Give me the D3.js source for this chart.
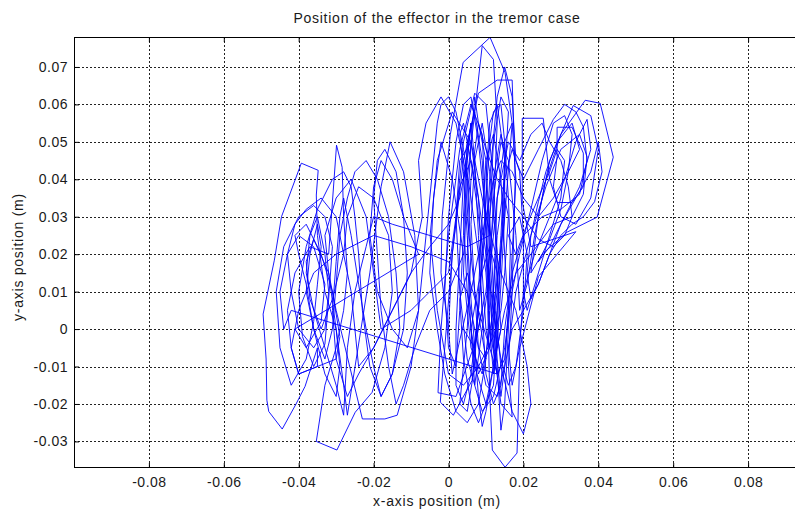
<!DOCTYPE html>
<html>
<head>
<meta charset="utf-8">
<script src="https://cdn.jsdelivr.net/npm/d3@7"></script>
<style>
  body { margin: 0; background: #fff; }
  svg text { font-family: "Liberation Sans", Arial, sans-serif; fill: #1a1a1a; }
</style>
</head>
<body>
<div id="chart"></div>
<script>
// ---------------------------------------------------------
// DATA  (effector position, in millimetres)
// ---------------------------------------------------------
const titleText = "Position of the effector in the tremor case";
const xLabelText = "x-axis position (m)";
const yLabelText = "y-axis position (m)";

const xTicks = [-80, -60, -40, -20, 0, 20, 40, 60, 80];
const yTicks = [-30, -20, -10, 0, 10, 20, 30, 40, 50, 60, 70];

// one line per tremor loop, 10 samples each
const trackX = [
  0, -2, -1.7, 0.5, 3.9, 11.1, 15.1, 17, 15, 12,
  9, 6, 4, 5, 9, 12, 13, 12, 10, 7,
  2, -2.8, -2, 0, 3, 6, 9, 10, 8, 6.3,
  1.3, -2.2, -1, 1, 4, 8, 13, 17, 17.8, 17,
  16, 17, 14, 12, 11, 12, 14, 16, 18, 19,
  21, 23, 26, 30, 36.5, 40.5, 44, 39.7, 31.7, 25,
  22, 24, 27, 33.3, 38, 40, 38, 34, 30, 28,
  29, 29, 33, 36, 36, 33, 29, 27, 25.3, 19.7,
  19.7, 22, 28, 34, 24, 19.1, 18.3, 15.1, 11.7, 11,
  10.5, 11, 12, 14, 16, 15, 14, 13, 12, 10,
  7, 5, 4, 5, 7, 9, 10, 11, 10, 8,
  5, 0, -10, -20, -30, -36, -40, -42, -40, -35,
  -35, -38.3, -40.7, -44.4, -48, -48.5, -48.7, -49.5, -46.5, -44.6,
  -39.3, -34.8, -35.3, -35, -33, -30, -29, -30, -33, -36,
  -38, -40, -41, -38, -34, -31, -29, -30, -35, -40,
  -42, -43, -41, -37, -32, -29.9, -28.4, -28, -27, -28,
  -30, -33, -35.3, -29.8, -24.9, -20.4, -17, -15, -16, -20,
  -24, -27, -28, -31, -34, -37, -38, -36, -32, -30,
  -23, -17, -13.7, -10, -8, -9, -12, -15.6, -18, -21,
  -27, -28, -30, -32, -33, -30, -26, -22, -20, -18,
  -10, -5, 0, 2, 4, 7, 10, 12, 13, 12,
  13, 14, 15, 16, 17, 18, 17, 15, 13, 11,
  9, 7, 5, 3, 2, 3, 6, 8, 9, 10,
  11, 12, 13, 15, 17, 19, 20, 20, 19, 17,
  16, 18, 22, 26, 30, 35, 37, 36, 33, 28,
  22, 18, 15, 13, 12, 11, 10, 11, 13, 15,
  14, 13, 11, 8, 6, 5, 6, 8, 10, 11,
  5, -5, -15, -20, -22, -25, -27, -28, -30, -33,
  -36, -38, -37, -35, -33, -32, -33, -36, -40, -42,
  -43, -41, -38, -34, -30, -28, -26, -25, -24, -20,
  -15, -10, -7, -8, -6, -2, 2, 5, 6, 5,
  4, 3, 5, 7, 8, 9, 10, 12, 14, 15,
  16, 15, 13, 11, 10, 11, 13, 15, 17, 18,
  20, 24, 28, 31, 34, 36, 37, 35, 30, 25,
  20, 17, 15, 14, 12, 10, 9, 8, 7, 6,
  5, 4, 3, 2, 0, -1, 0, 2, 4, 6,
  8, 10, 11, 12, 13, 14, 15, 16, 15, 14,
  12, 8, 4, 0, -3, -4.9, -3, 1, 6, 10,
  14, 18, 21, 22, 20, 17, 14, 12, 13, 16,
  19, 22, 25, 27, 30, 32, 33, 31, 28, 24,
  20, 16, 13, 10, 8, 7, 6, 5, 7, 10,
  8, 5, 2, -1, -3, -5, -4, -2, 1, 4,
  0, -5, -9, -12, -14, -16, -18, -19, -20, -19,
  -17, -14, -12, -11, -12, -15, -18, -21, -23, -24,
  -25, -26, -28, -31, -35, -38, -40, -39, -36, -33,
  -32, -31, -33, -36, -40, -44, -46, -45, -42, -38,
  -36, -35, -34, -35, -37, -38, -36, -33, -31, -30,
  -29, -27, -25, -22, -19, -16, -14, -13, -15, -18,
  -20, -22, -24, -26, -28, -29, -30, -31, -30, -27,
  -24, -20, -15, -10, -5, 0, 3, 5, 6, 4,
  3, 2, 2, 4, 6, 8, 9, 10, 11, 12,
  14, 15, 16, 16.5, 16, 15, 14, 13, 12, 11,
  12, 14, 17, 20, 24, 28, 32, 35, 33, 29,
  26, 24, 22, 21, 22, 24, 27, 30, 34, 38,
  40, 41, 39, 36, 33, 30, 27, 24, 20, 17,
  15, 13, 10, 8, 7, 6, 7, 9, 11, 13,
  13, 12, 10, 9, 8, 7, 6, 5, 4, 3,
  4, 6, 8, 10, 11, 12, 13, 14, 15, 15,
  14, 12, 9, 6, 3, 1, 0, 1, 3, 6,
  8, 10, 12, 14, 16, 18, 20, 21, 19, 16,
  18, 21, 24, 27, 29, 31, 30, 27, 24, 21,
  20, 23, 27, 31, 34, 37, 38, 35, 31, 27,
  24, 27, 30, 32, 33, 31, 28, 25, 22, 19,
  17, 15, 12, 9, 7, 6, 8, 11, 13, 14,
  12, 10, 8, 6, 4, 3, 5, 8, 11, 13,
  -42, -44, -45, -43, -40, -36, -33, -34, -38, -41,
  -8, -12, -15, -18, -20, -21, -19, -15, -11, -8,
  -3, -2, 0, 2, 4, 6, 8, 9, 7, 4
];
const trackY = [
  0, 15, 30, 52, 71.2, 77.9, 68.5, 55, 30, 5,
  -12, -5, 15, 40, 75.7, 72, 55, 30, 10, -4,
  -18, -17, 0, 25, 48, 60, 52, 30, 5, -13.7,
  -23, -19.5, -5, 20, 45, 63, 66.5, 66.5, 40, 10,
  -10, -23.5, -20, -5, 15, 35, 50, 45, 25, 5,
  12, 25, 40, 52, 61.1, 60.3, 45.9, 29.9, 25.9, 20,
  15, 30, 45, 59.7, 57, 48, 35, 28, 30, 38,
  46, 53.9, 53.9, 47, 38, 33.8, 33.8, 40, 56.3, 56.3,
  34, 22, 24, 26, 14, -4.8, -33.1, -36.9, -32.3, -17,
  5, 30, 50, 62, 58, 40, 20, 0, -15, -20,
  -10, 10, 30, 50, 58, 45, 25, 5, -8, -5,
  10, 18, 22, 25, 20, 15, 5, -5, -12, -10,
  -5, -15.3, -20, -26.7, -22, -19, -8, 4, 18.4, 30,
  44.3, 42.4, 35.8, 25, 10, 0, -10, -18, -12, 0,
  12, 20, 25, 28, 20, 10, -2, -8, -10, -12,
  -5, 5, 15, 22, 20, 49.1, 43.2, 30, 15, 5,
  -5, -15, -30, -32.3, -22.2, -16.9, -5, 10, 25, 35,
  38, 30, 20, 8, 0, 8, 18, 24, 15, 5,
  -24, -24, -23, -10, 5, 25, 42, 50, 38, 15,
  -23, -15, 0, 15, 25, 35, 40, 30, 15, 0,
  5, 10, 15, 30, 50, 63, 60, 40, 20, 0,
  -10, -27, -20, 0, 20, 40, 55, 50, 35, 15,
  0, -15, -8, 10, 30, 45, 50, 35, 15, 0,
  -5, 10, 25, 40, 48, 42, 25, 10, -5, -15,
  -5, 10, 25, 38, 48, 52, 46, 36, 30, 28,
  20, 15, 5, -5, 5, 20, 40, 55, 60, 45,
  25, 10, -5, -12, 0, 20, 40, 55, 45, 25,
  22, 25, 28, 30, 22, 10, -5, -23, -15, -5,
  5, 15, 25, 30, 20, 10, 0, -5, 0, 10,
  20, 28, 32, 35, 30, 20, 10, 0, -10, -5,
  5, 15, 30, 45, 55, 62, 55, 40, 20, 0,
  -10, -20, -22, -10, 10, 30, 45, 52, 40, 20,
  5, -8, -12, 0, 20, 40, 62, 70, 62, 45,
  40, 48, 56, 60, 58, 54, 45, 36, 32, 30,
  25, 15, 0, -15, -20, -12, 5, 25, 45, 55,
  45, 25, 5, -10, -5, 10, 30, 50, 60, 62,
  50, 30, 10, -5, 5, 20, 35, 30, 15, 5,
  -2, -10, -15, -12, 5, 25, 45, 58, 50, 30,
  15, 5, -10, -20, -28, -22, -10, 10, 35, 50,
  45, 52, 55, 50, 45, 38, 30, 25, 22, 24,
  30, 35, 40, 48, 55, 62, 50, 30, 10, -8,
  -20, -25, -22, -12, 0, 15, 35, 50, 40, 20,
  10, 5, -5, -15, -20, -10, 5, 20, 35, 45,
  48, 42, 30, 15, 0, -12, -18, -10, 5, 20,
  30, 38, 42, 40, 32, 22, 10, -2, -10, -4,
  8, 22, 30, 33, 30, 22, 10, -5, -15, -8,
  2, 12, 22, 28, 20, 10, 0, -8, 0, 12,
  25, 35, 42, 45, 40, 30, 15, 0, -12, -18,
  -10, 0, 12, 25, 35, 30, 18, 5, -8, -18,
  -12, -5, 5, 15, 22, 28, 35, 45, 55, 40,
  20, 0, -15, -20, -12, 5, 20, 35, 50, 58,
  60, 50, 35, 20, 5, -10, -18, -8, 10, 30,
  40, 45, 42, 35, 30, 35, 42, 48, 55, 50,
  42, 34, 25, 15, 8, 12, 20, 28, 35, 42,
  50, 42, 34, 30, 28, 25, 20, 12, 5, 0,
  -10, -18, -15, -5, 10, 28, 45, 55, 42, 20,
  5, -10, -22, -26, -18, -5, 8, 25, 42, 52,
  55, 45, 30, 15, 0, -12, -5, 12, 30, 48,
  52, 40, 25, 10, -3, -12, 0, 20, 38, 45,
  35, 20, 5, -8, -15, -10, 5, 20, 30, 25,
  20, 28, 35, 42, 48, 45, 35, 25, 15, 5,
  10, 20, 30, 40, 50, 56, 48, 38, 30, 22,
  18, 24, 32, 42, 52, 57, 55, 45, 32, 20,
  10, -5, -18, -22, -15, 0, 12, 22, 15, 0,
  -10, -20, -25, -20, -8, 8, 15, 5, -5, -12,
  5, 0, 10, 20, 25, 22, 12, 2, -5, 0,
  20, 30, 40, 45, 38, 25, 10, 0, -5, 5,
  55, 60, 62, 58, 48, 35, 20, 5, -5, 0
];

// ---------------------------------------------------------
// SETUP
// ---------------------------------------------------------
const width = 795;
const height = 510;
const plot = { left: 74, right: 823, top: 37, bottom: 468 };

const x = d3.scaleLinear().domain([-100, 100]).range([plot.left, plot.right]);
const y = d3.scaleLinear().domain([-37.1, 78]).range([plot.bottom, plot.top]);

const svg = d3.select("#chart")
    .append("svg")
    .attr("width", width)
    .attr("height", height)
    .style("display", "block");

svg.append("defs").append("clipPath")
    .attr("id", "plot-clip")
    .append("rect")
    .attr("x", plot.left)
    .attr("y", plot.top)
    .attr("width", plot.right - plot.left)
    .attr("height", plot.bottom - plot.top);

const fmt = v => String(+(v / 1000).toFixed(2));

// grid (dotted, behind the data)
const grid = svg.append("g").attr("class", "grid");
grid.selectAll(".gx").data(xTicks).enter().append("line")
    .attr("x1", d => Math.round(x(d)) + 0.5).attr("x2", d => Math.round(x(d)) + 0.5)
    .attr("y1", plot.top).attr("y2", plot.bottom);
grid.selectAll(".gy").data(yTicks).enter().append("line")
    .attr("y1", d => Math.round(y(d)) + 0.5).attr("y2", d => Math.round(y(d)) + 0.5)
    .attr("x1", plot.left).attr("x2", plot.right);
grid.selectAll("line")
    .attr("stroke", "#222")
    .attr("stroke-width", 1)
    .attr("stroke-dasharray", "2,2");

// trajectory
const points = trackX.map((v, i) => [v, trackY[i]]);
const line = d3.line().x(d => x(d[0])).y(d => y(d[1]));

svg.append("path")
    .datum(points)
    .attr("clip-path", "url(#plot-clip)")
    .attr("fill", "none")
    .attr("stroke", "#0000ff")
    .attr("stroke-width", 0.9)
    .attr("stroke-linejoin", "miter")
    .attr("d", line);

// axes with inner ticks
const xAxis = svg.append("g")
    .attr("transform", `translate(0,${plot.bottom})`)
    .call(d3.axisBottom(x).tickValues(xTicks).tickSize(-5).tickPadding(9).tickFormat(fmt));
const xTop = svg.append("g")
    .attr("transform", `translate(0,${plot.top})`)
    .call(d3.axisTop(x).tickValues(xTicks).tickSize(-5).tickFormat(""));
const yAxis = svg.append("g")
    .attr("transform", `translate(${plot.left},0)`)
    .call(d3.axisLeft(y).tickValues(yTicks).tickSize(-5).tickPadding(6).tickFormat(fmt));

[xAxis, xTop, yAxis].forEach(g => {
    g.select(".domain").remove();
    g.selectAll(".tick line").attr("stroke", "#000");
    g.selectAll(".tick text")
        .attr("fill", "#1a1a1a")
        .style("font-size", "14px")
        .style("letter-spacing", "0.5px");
});

// axes box
svg.append("rect")
    .attr("x", plot.left + 0.5)
    .attr("y", plot.top + 0.5)
    .attr("width", plot.right - plot.left)
    .attr("height", plot.bottom - plot.top - 1)
    .attr("fill", "none")
    .attr("stroke", "#000")
    .attr("stroke-width", 1);

// texts
svg.append("text")
    .attr("x", 437)
    .attr("y", 23)
    .attr("text-anchor", "middle")
    .style("font-size", "14px")
    .style("letter-spacing", "0.75px")
    .text(titleText);

svg.append("text")
    .attr("x", 437)
    .attr("y", 506)
    .attr("text-anchor", "middle")
    .style("font-size", "14px")
    .style("letter-spacing", "0.75px")
    .text(xLabelText);

svg.append("text")
    .attr("transform", "translate(23,257) rotate(-90)")
    .attr("text-anchor", "middle")
    .style("font-size", "14px")
    .style("letter-spacing", "0.75px")
    .text(yLabelText);
</script>
</body>
</html>
